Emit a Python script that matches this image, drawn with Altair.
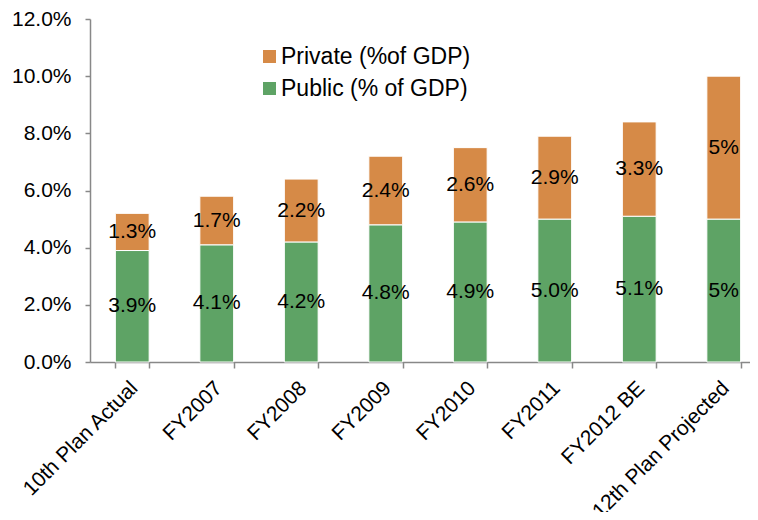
import altair as alt
import pandas as pd

categories = ["10th Plan Actual", "FY2007", "FY2008", "FY2009", "FY2010",
              "FY2011", "FY2012 BE", "12th Plan Projected"]
public_vals = [3.9, 4.1, 4.2, 4.8, 4.9, 5.0, 5.1, 5.0]
private_vals = [1.3, 1.7, 2.2, 2.4, 2.6, 2.9, 3.3, 5.0]
public_labels = ["3.9%", "4.1%", "4.2%", "4.8%", "4.9%", "5.0%", "5.1%", "5%"]
private_labels = ["1.3%", "1.7%", "2.2%", "2.4%", "2.6%", "2.9%", "3.3%", "5%"]
series = ["Private (%of GDP)", "Public (% of GDP)"]
colors = ["#D68A47", "#5EA365"]

rows = []
for i, c in enumerate(categories):
    rows.append({"cat": c, "series": series[1], "value": public_vals[i] / 100,
                 "label": public_labels[i], "ord": 0})
    rows.append({"cat": c, "series": series[0], "value": private_vals[i] / 100,
                 "label": private_labels[i], "ord": 1})
df = pd.DataFrame(rows)

FONT = "Liberation Sans"

base = alt.Chart(df).transform_stack(
    stack="value", groupby=["cat"], as_=["y0", "y1"],
    sort=[alt.SortField("ord", order="ascending")]
).transform_calculate(mid="(datum.y0 + datum.y1) / 2")

x_scale = alt.Scale(paddingInner=0.6, paddingOuter=0.3, range=[0, 676])

x_enc = alt.X("cat:N", sort=categories, title=None, scale=x_scale,
              axis=alt.Axis(labelAngle=-45, labelAlign="right", labelBaseline="top",
                            labelFontSize=21, labelFont=FONT, labelColor="#000000",
                            labelPadding=9, labelOffset=-6, tickBand="extent", tickSize=6,
                            tickColor="#888888", domainColor="#888888",
                            domainWidth=1.5, tickWidth=1.5, labelLimit=300))

bars = base.mark_bar(stroke="white", strokeWidth=1).encode(
    x=x_enc,
    y=alt.Y("y0:Q", title=None,
            scale=alt.Scale(domain=[0, 0.12], nice=False),
            axis=alt.Axis(values=[0, 0.02, 0.04, 0.06, 0.08, 0.10, 0.12], format=".1%",
                          grid=False, labelFontSize=21, labelFont=FONT,
                          labelColor="#000000", labelPadding=14, tickSize=5,
                          tickColor="#888888", domainColor="#888888",
                          domainWidth=1.5, tickWidth=1.5)),
    y2="y1:Q",
    color=alt.Color("series:N", scale=alt.Scale(domain=series, range=colors),
                    title=None,
                    legend=alt.Legend(orient="none", legendX=168, legendY=26,
                                      symbolType="square", symbolSize=170,
                                      symbolStrokeWidth=0, labelFontSize=23,
                                      labelFont=FONT, labelColor="#000000",
                                      rowPadding=8, labelOffset=0, labelLimit=400)),
)

texts = base.mark_text(fontSize=21, font=FONT, color="#000000").encode(
    x=alt.X("cat:N", sort=categories, scale=x_scale),
    y=alt.Y("mid:Q"),
    text="label:N",
)

chart = alt.layer(bars, texts).properties(
    width=660, height=343,
    autosize=alt.AutoSizeParams(type="none"),
    padding={"left": 82, "top": 11, "right": 0, "bottom": 150},
).configure_view(stroke=None)

chart.save("out.html", embed_options={"renderer": "svg", "actions": False})
